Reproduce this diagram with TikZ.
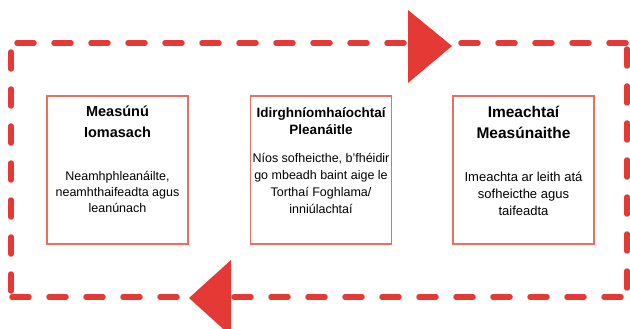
\documentclass[tikz,border=0pt]{standalone}
\usepackage{fontspec}
\setmainfont{Liberation Sans}
\usetikzlibrary{positioning}
\definecolor{loopred}{RGB}{229,57,53}
\definecolor{boxred}{RGB}{233,112,95}
\tikzset{%
  stage/.style={draw=boxred, line width=1.5pt, minimum width=141pt,
    minimum height=148pt, inner sep=0pt},% one box of the cycle
  title/.style={align=center, inner sep=0pt},% bold heading in a box
  body/.style={align=center, inner sep=0pt,
    font=\fontsize{12.5}{16}\selectfont},% plain text in a box
  loop/.style={draw=loopred, line width=5.5pt, line cap=round,
    dash pattern=on 17pt off 20pt, dash phase=31pt},% dashed cycle round the boxes
  turn/.style={fill=loopred}% arrow heads on the cycle
}
\begin{document}
\begin{tikzpicture}[x=1pt, y=-1pt]
\useasboundingbox (0,0) rectangle (630,329);

\coordinate (tl) at (11,43);
\coordinate (tr) at (627,43);
\coordinate (br) at (627,297);
\coordinate (bl) at (11,297);
% each side on its own, so the dashes stop short of the corners
\draw[loop] (tl) -- (tr);
\draw[loop] (tr) -- (br);
\draw[loop] (br) -- (bl);
\draw[loop] (bl) -- (tl);

\fill[turn] (408,10) -- (452,46) -- (408,83) -- cycle;
\fill[turn] (231,260) -- (189,298) -- (231,336) -- cycle;

\node[stage] (intuitive) at (117.5,170) {};
\node[stage] (planned) at (321,170) {};
\node[stage] (events) at (523.5,170) {};

\node[title, font=\bfseries\fontsize{14.5}{21}\selectfont] (t1) at (117.5,121.5) {Measúnú\\Iomasach};
\node[title, font=\bfseries\fontsize{13.5}{17}\selectfont] (t2) at (321,121.5) {Idirghníomhaíochtaí\\Pleanáitle};
\node[title, font=\bfseries\fontsize{15.5}{21}\selectfont] (t3) at (523.5,122.5) {Imeachtaí\\Measúnaithe};

\node[body] (b1) at (117.5,192) {Neamhphleanáilte,\\neamhthaifeadta agus\\leanúnach};
\node[body, font=\fontsize{12.5}{17}\selectfont] (b2) at (321,183) {Níos sofheicthe, b’fhéidir\\go mbeadh baint aige le\\Torthaí Foghlama/\\inniúlachtaí};
\node[body, font=\fontsize{13}{17}\selectfont] (b3) at (523.5,194) {Imeachta ar leith atá\\sofheicthe agus\\taifeadta};

\end{tikzpicture}
\end{document}
